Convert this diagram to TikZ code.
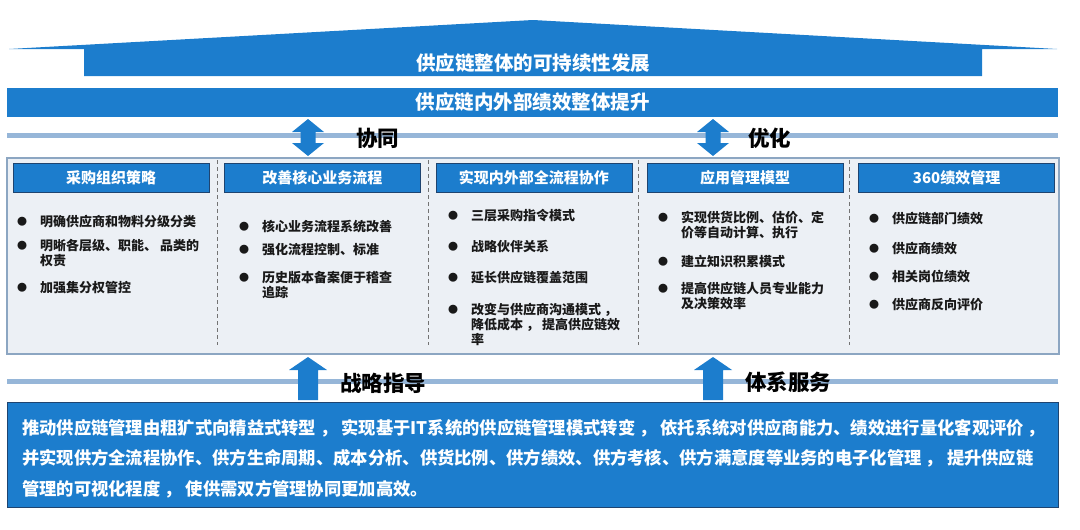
\documentclass[tikz,border=0pt]{standalone}
\usepackage{fontspec}
\setmainfont{Noto Sans CJK SC}
\definecolor{scBlue}{RGB}{28,125,205}
\definecolor{scNavy}{RGB}{30,68,112}
\definecolor{scBand}{RGB}{150,182,216}
\definecolor{scPanel}{RGB}{236,240,245}
\definecolor{scFrame}{RGB}{140,166,194}
\definecolor{scInk}{RGB}{25,25,25}
\usetikzlibrary{positioning}
\newcommand{\dotmark}{\leavevmode\llap{\raisebox{1.2pt}{\fontsize{10}{10}\selectfont ●}\hspace{13pt}}}

\begin{document}
\begin{tikzpicture}[x=1pt, y=-1pt,
  heading/.style={text=white, inner sep=0pt, font=\bfseries\fontsize{19.5}{22}\selectfont},
  bar/.style={heading, fill=scBlue},
  head/.style={draw=scNavy, fill=scBlue, text=white, minimum width=196pt,
               minimum height=29pt, inner sep=0pt, font=\bfseries\fontsize{15}{18}\selectfont},
  item/.style={anchor=north west, inner sep=0pt, align=left, text=scInk,
               font=\bfseries\fontsize{13}{14.8}\selectfont},
  tag/.style={anchor=west, inner sep=0pt, font=\bfseries\fontsize{21.5}{24}\selectfont},
  band/.style={scBand, line width=5pt},
  sep/.style={draw=black!55, dash pattern=on 4pt off 3pt, line width=0.8pt}
]
  \useasboundingbox (0,0) rectangle (1080,530);

  % roof and the two top bars
  \fill[scBlue] (9,49) -- (533,20) -- (1057,49) -- (982,49) -- (982,76) -- (84,76) -- (84,49) -- cycle;
  \node[heading] (goal) at (533,63) {供应链整体的可持续性发展};
  \node[bar, minimum width=1051pt, minimum height=29pt] (lift) at (532.5,102.5) {供应链内外部绩效整体提升};

  \draw[band] (7,135) -- (1058,135);
  \draw[band] (7,381) -- (1058,381);

  % double arrows
  \fill[scBlue, shift={(308,0)}] (0,119) -- (16,132) -- (7.5,132) -- (7.5,143) -- (16,143) -- (0,156)
    -- (-16,143) -- (-7.5,143) -- (-7.5,132) -- (-16,132) -- cycle;
  \fill[scBlue, shift={(713,0)}] (0,119) -- (16,132) -- (7.5,132) -- (7.5,143) -- (16,143) -- (0,156)
    -- (-16,143) -- (-7.5,143) -- (-7.5,132) -- (-16,132) -- cycle;
  \node[tag] (sync) at (356,138) {协同};
  \node[tag] (tune) at (748,138) {优化};

  % middle panel
  \filldraw[fill=scPanel, draw=scFrame, line width=1.2pt] (7,158) rectangle (1059,354);
  \draw[sep] (217,160) -- (217,345) (428,160) -- (428,345) (638,160) -- (638,345) (849,160) -- (849,345);

  \node[head] (buy) at (111,177.5) {采购组织策略};
  \node[head, right=15pt of buy] (flow) {改善核心业务流程};
  \node[head, right=15pt of flow] (coop) {实现内外部全流程协作};
  \node[head, right=15pt of coop] (model) {应用管理模型};
  \node[head, right=15pt of model] (kpi) {360绩效管理};

  \node[item] (buyA) at (40,215) {\dotmark 明确供应商和物料分级分类};
  \node[item] (buyB) at (40,239) {\dotmark 明晰各层级、职能、 品类的\\权责};
  \node[item] (buyC) at (40,281) {\dotmark 加强集分权管控};

  \node[item] (flowA) at (262,220) {\dotmark 核心业务流程系统改善};
  \node[item] (flowB) at (262,243) {\dotmark 强化流程控制、标准};
  \node[item] (flowC) at (262,271) {\dotmark 历史版本备案便于稽查\\追踪};

  \node[item] (coopA) at (471,209) {\dotmark 三层采购指令模式};
  \node[item] (coopB) at (471,240) {\dotmark 战略伙伴关系};
  \node[item] (coopC) at (471,271) {\dotmark 延长供应链覆盖范围};
  \node[item] (coopD) at (471,303) {\dotmark 改变与供应商沟通模式 ，\\降低成本 ， 提高供应链效\\率};

  \node[item] (modelA) at (681,211) {\dotmark 实现供货比例、估价、定\\价等自动计算、执行};
  \node[item] (modelB) at (681,255) {\dotmark 建立知识积累模式};
  \node[item] (modelC) at (681,282) {\dotmark 提高供应链人员专业能力\\及决策效率};

  \node[item] (kpiA) at (892,212) {\dotmark 供应链部门绩效};
  \node[item] (kpiB) at (892,242) {\dotmark 供应商绩效};
  \node[item] (kpiC) at (892,270) {\dotmark 相关岗位绩效};
  \node[item] (kpiD) at (892,298) {\dotmark 供应商反向评价};

  % up arrows
  \fill[scBlue, shift={(308,0)}] (0,357) -- (19,370) -- (10,370) -- (10,400) -- (-10,400) -- (-10,370) -- (-19,370) -- cycle;
  \fill[scBlue, shift={(713,0)}] (0,357) -- (19,370) -- (10,370) -- (10,400) -- (-10,400) -- (-10,370) -- (-19,370) -- cycle;
  \node[tag] (guide) at (340,383) {战略指导};
  \node[tag] (serve) at (745,382) {体系服务};

  % bottom box
  \node[draw=scNavy, fill=scBlue, minimum width=1051pt, minimum height=105pt, inner sep=0pt] (base) at (532.5,454.5) {};
  \node[anchor=west, inner sep=0pt, align=left, text=white, font=\bfseries\fontsize{17.3}{30.5}\selectfont] (aim) at (22,458.5)
    {推动供应链管理由粗犷式向精益式转型 ， 实现基于IT系统的供应链管理模式转变 ， 依托系统对供应商能力、绩效进行量化客观评价 ，\\
     并实现供方全流程协作、供方生命周期、成本分析、供货比例、供方绩效、供方考核、供方满意度等业务的电子化管理 ， 提升供应链\\
     管理的可视化程度 ， 使供需双方管理协同更加高效。};
\end{tikzpicture}
\end{document}
